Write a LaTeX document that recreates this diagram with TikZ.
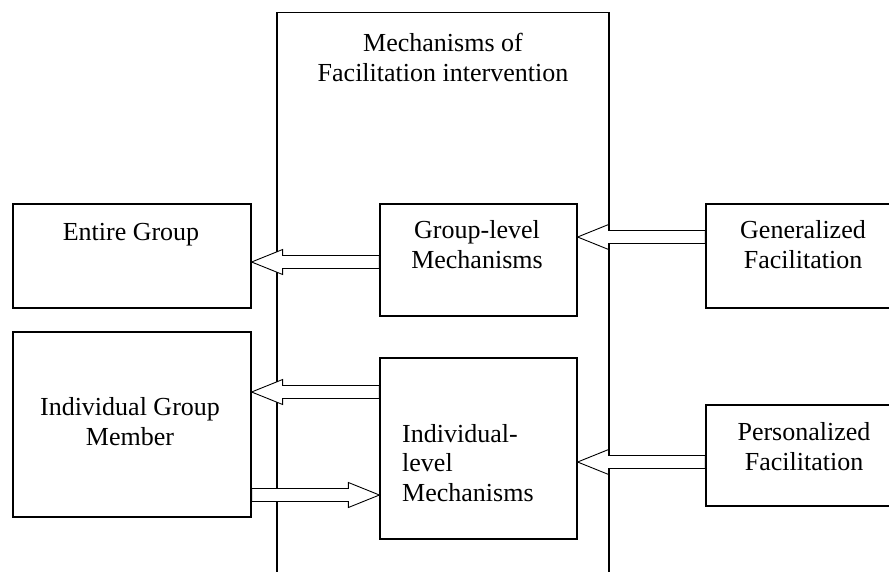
\documentclass[tikz,border=0pt]{standalone}
\usepackage{fontspec}
\setmainfont{Liberation Serif}
\usetikzlibrary{calc}

\tikzset{
  box/.style={draw, line width=1.2pt, fill=white, inner sep=0pt},
  txt/.style={font=\fontsize{26}{29.5}\selectfont, align=center, inner sep=0pt},
  hollow/.style={draw, line width=0.9pt, fill=white, to path={
    let \p1=(\tikztostart), \p2=(\tikztotarget), \p3=($(\p2)!31pt!(\x1,\y2)$) in
    (\x1,{\y2+6.5pt}) -- (\x3,{\y2+6.5pt}) -- (\x3,{\y2+12.5pt}) -- (\x2,\y2)
    -- (\x3,{\y2-12.5pt}) -- (\x3,{\y2-6.5pt}) -- (\x1,{\y2-6.5pt}) -- cycle}}
}

\begin{document}
\begin{tikzpicture}[x=1pt,y=-1pt]
     \path[use as bounding box, clip] (0,0) rectangle (889,571);

     % outer frame, open at the bottom
     \node[box, minimum width=332, minimum height=600, anchor=north] (mech) at (443,12) {};
     \node[txt, anchor=base] (mechT) at (443,81) {Mechanisms of\\Facilitation intervention};

     % left column
     \node[box, minimum width=238, minimum height=104] (entire) at (132,256) {};
     \node[txt, anchor=base] (entireT) at (131,240) {Entire Group};
     \node[box, minimum width=238, minimum height=185] (member) at (132,424.5) {};
     \node[txt, anchor=base] (memberT) at (130,445) {Individual Group\\Member};

     % middle column
     \node[box, minimum width=197, minimum height=112] (glevel) at (478.5,260) {};
     \node[txt, anchor=base] (glevelT) at (477,268) {Group-level\\Mechanisms};
     \node[box, minimum width=197, minimum height=181] (ilevel) at (478.5,448.5) {};
     \node[txt, align=left, anchor=base west] (ilevelT) at (402,501) {Individual-\\level\\Mechanisms};

     % right column
     \node[box, minimum width=214, minimum height=104] (general) at (813,256) {};
     \node[txt, anchor=base] (generalT) at (803,268) {Generalized\\Facilitation};
     \node[box, minimum width=214, minimum height=101] (person) at (813,455.5) {};
     \node[txt, anchor=base] (personT) at (804,470) {Personalized\\Facilitation};

     % block arrows
     \draw[hollow] (glevel.west) to ([yshift=-6pt]entire.east);
     \draw[hollow] (general.west) to ([yshift=23pt]glevel.east);
     \draw[hollow] (ilevel.west) to ([yshift=32.5pt]member.east);
     \draw[hollow] (member.east) to ([yshift=-46.5pt]ilevel.west);
     \draw[hollow] (person.west) to ([yshift=-13.5pt]ilevel.east);
\end{tikzpicture}
\end{document}
